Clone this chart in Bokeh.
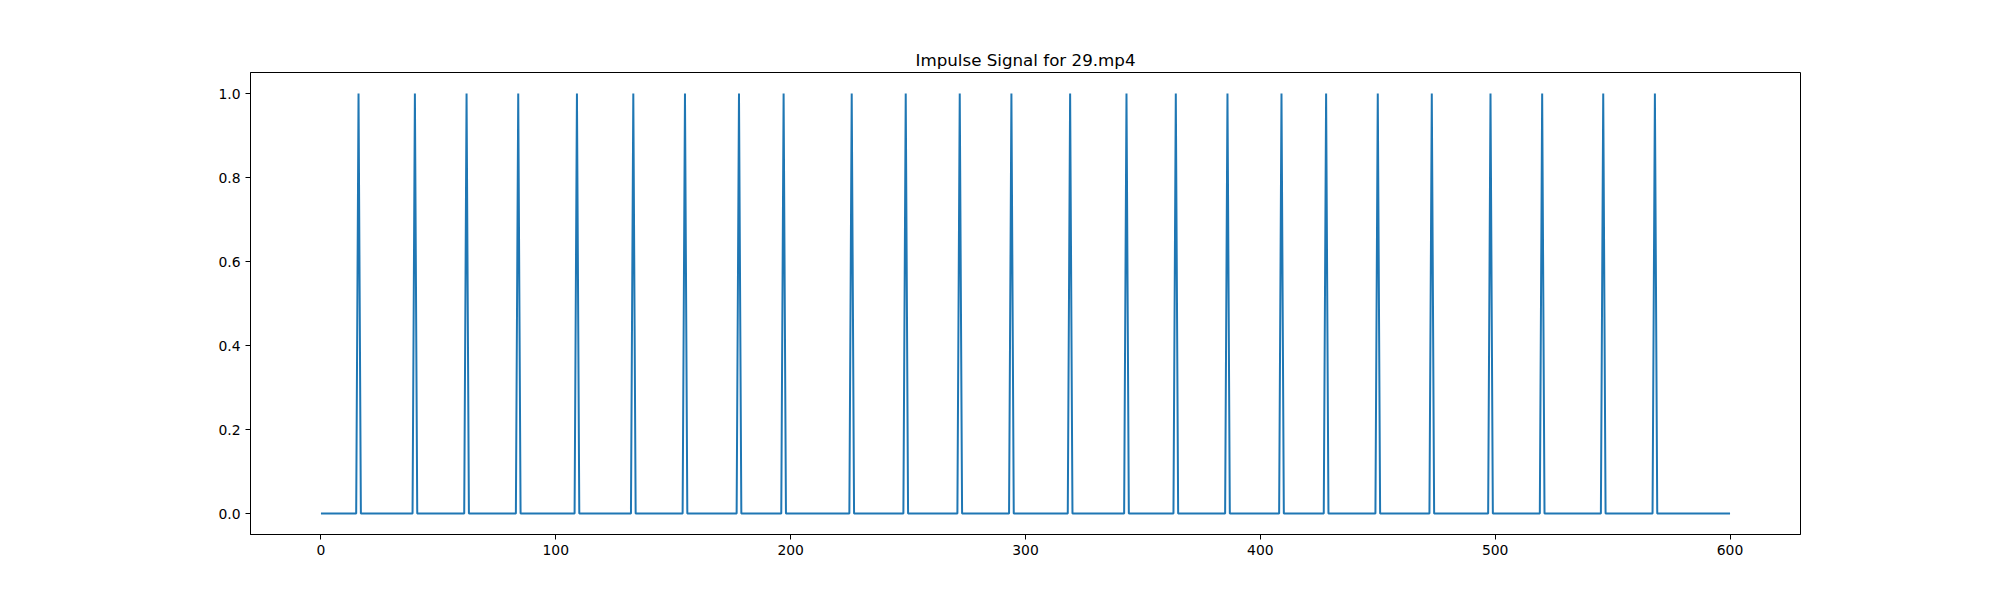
import numpy as np
from bokeh.plotting import figure
from bokeh.models import FixedTicker, PrintfTickFormatter, Range1d
from bokeh.embed import file_html
from bokeh.resources import INLINE

# ---- data ----
title_text = "Impulse Signal for 29.mp4"
n_frames = 601
impulse_frames = [16, 40, 62, 84, 109, 133, 155, 178, 197, 226, 249, 272, 294,
                  319, 343, 364, 386, 409, 428, 450, 473, 498, 520, 546, 568]
x_ticks = [0, 100, 200, 300, 400, 500, 600]
y_ticks = [0.0, 0.2, 0.4, 0.6, 0.8, 1.0]

frames = np.arange(n_frames)
signal = np.zeros(n_frames)
signal[impulse_frames] = 1.0

FONT = "DejaVu Sans"

p = figure(width=1992, height=588, output_backend="svg", toolbar_location=None,
           x_range=Range1d(-30, 630), y_range=Range1d(-0.05, 1.05),
           min_border_left=250, min_border_right=192,
           min_border_top=72, min_border_bottom=54)

p.line(frames, signal, line_color="#1f77b4", line_width=2)

p.title.text = title_text
p.title.align = "center"
p.title.text_font = FONT
p.title.text_font_size = "16.7px"
p.title.text_font_style = "normal"
p.title.text_color = "black"
p.title.offset = 0
p.title.standoff = 6

p.outline_line_color = "black"
p.outline_line_width = 1
p.xgrid.visible = False
p.ygrid.visible = False
p.background_fill_color = "white"
p.border_fill_color = "white"

for ax in (p.xaxis[0], p.yaxis[0]):
    ax.axis_line_color = "black"
    ax.major_tick_line_color = "black"
    ax.major_tick_in = 0
    ax.major_tick_out = 5
    ax.minor_tick_line_color = None
    ax.major_label_text_font = FONT
    ax.major_label_text_font_size = "13.9px"
    ax.major_label_text_color = "black"
    ax.major_label_standoff = 5

p.xaxis[0].ticker = FixedTicker(ticks=x_ticks)
p.yaxis[0].ticker = FixedTicker(ticks=y_ticks)
p.yaxis[0].formatter = PrintfTickFormatter(format="%.1f")
p.xaxis[0].formatter = PrintfTickFormatter(format="%d")

open("out.html", "w").write(file_html(p, INLINE))
